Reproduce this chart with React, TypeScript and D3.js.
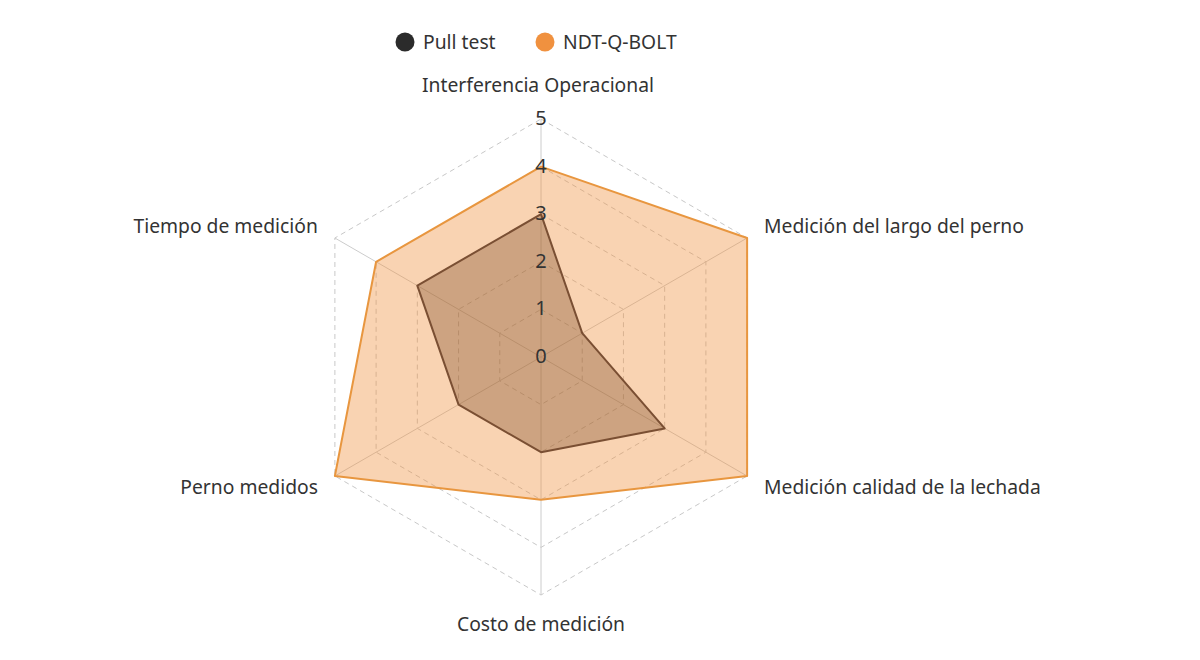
import React from 'react'
import * as d3 from 'd3';

const axes = [
  'Interferencia Operacional',
  'Medición del largo del perno',
  'Medición calidad de la lechada',
  'Costo de medición',
  'Perno medidos',
  'Tiempo de medición',
];
const pullTest = [3, 1, 3, 2, 2, 3];
const ndtQBolt = [4, 5, 5, 3, 5, 4];
const levels = [0, 1, 2, 3, 4, 5];

const seriesNames = ['Pull test', 'NDT-Q-BOLT'];

const App: React.FC = () => {
  const width = 1200;
  const height = 660;
  const cx = 541;
  const cy = 357;
  const radius = 238;
  const font = '"Noto Sans", sans-serif';
  const fs = 19.3;

  const r = d3.scaleLinear().domain([0, 5]).range([0, radius]);
  const angle = d3.scaleLinear().domain([0, axes.length]).range([0, 2 * Math.PI]);

  const point = (i: number, v: number): [number, number] => {
    const a = angle(i) - Math.PI / 2;
    return [r(v) * Math.cos(a), r(v) * Math.sin(a)];
  };

  const polygon = d3.line<number>()
    .x((v, i) => point(i, v)[0])
    .y((v, i) => point(i, v)[1])
    .curve(d3.curveLinearClosed);

  const gridPath = (lvl: number) => polygon(axes.map(() => lvl)) as string;

  // label placement per axis
  const labelPos = (i: number) => {
    const [x, y] = point(i, 5);
    if (i === 0) return { x: -3, y: y - 34, anchor: 'middle' };
    if (i === 3) return { x: 0, y: y + 29, anchor: 'middle' };
    if (i === 1) return { x: x + 17, y: y - 12, anchor: 'start' };
    if (i === 2) return { x: x + 17, y: y + 11, anchor: 'start' };
    if (i === 4) return { x: x - 17, y: y + 11, anchor: 'end' };
    return { x: x - 17, y: y - 12, anchor: 'end' };
  };

  return (
    <svg width={width} height={height} style={{ display: 'block', margin: -8 }}>
      <rect width={width} height={height} fill='#fff' />
      {/* legend */}
      <g fontFamily={font} fontSize={fs} fill='#333'>
        <circle cx={405} cy={42} r={9.5} fill='#2b2b2b' />
        <text x={423} y={42} dy='0.35em'>{seriesNames[0]}</text>
        <circle cx={545} cy={42} r={9.5} fill='#f0913f' />
        <text x={563} y={42} dy='0.35em'>{seriesNames[1]}</text>
      </g>
      <g transform={`translate(${cx}, ${cy})`}>
        {levels.slice(1).map(lvl => (
          <path key={lvl} d={gridPath(lvl)} fill='none' stroke='#c8c8c8' strokeWidth={1} strokeDasharray='5 4' />
        ))}
        {axes.map((_, i) => {
          const [x, y] = point(i, 5);
          return <line key={i} x1={0} y1={0} x2={x} y2={y} stroke='#cccccc' strokeWidth={1} />;
        })}
        <path d={polygon(ndtQBolt) as string} fill='#f0913f' fillOpacity={0.4} stroke='#e8963f' strokeWidth={2} strokeLinejoin='round' />
        <path d={polygon(pullTest) as string} fill='#7a4a26' fillOpacity={0.35} stroke='#7a4f33' strokeWidth={2} strokeLinejoin='round' />
        {levels.map(lvl => (
          <text key={lvl} x={0} y={-r(lvl) - 1} dy='0.35em' textAnchor='middle' fontFamily={font} fontSize={20} fill='#333'>
            {lvl}
          </text>
        ))}
        {axes.map((name, i) => {
          const p = labelPos(i);
          return (
            <text key={name} x={p.x} y={p.y} dy='0.35em' textAnchor={p.anchor} fontFamily={font} fontSize={fs} fill='#333'>
              {name}
            </text>
          );
        })}
      </g>
    </svg>
  )
}

export default App
